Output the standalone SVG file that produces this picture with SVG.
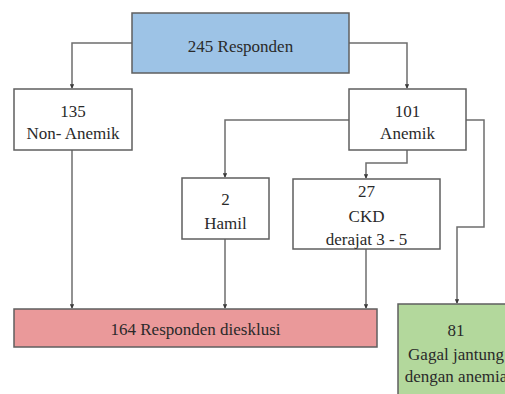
<svg xmlns="http://www.w3.org/2000/svg" width="505" height="394" viewBox="0 0 505 394">
<style>
.box{stroke:#5f5f5f;stroke-width:1.5}
.w{fill:#ffffff}
.t{font-family:'Liberation Serif', 'Times New Roman', 'DejaVu Serif', serif;font-size:17px;fill:#2a2a2a;text-anchor:middle}
.c{fill:none;stroke:#6e6e6e;stroke-width:1.5}
</style>
<defs>
<marker id="ah" viewBox="0 0 6 6" refX="5" refY="3" markerWidth="3" markerHeight="3" orient="auto" markerUnits="strokeWidth">
<path d="M0,0 L6,3 L0,6 Z" fill="#3a3a3a"/>
</marker>
</defs>
<rect width="505" height="394" fill="#ffffff"/>
<g id="connectors">
<path class="c" d="M132,43 H72 V88" marker-end="url(#ah)"/>
<path class="c" d="M349,43 H407 V88" marker-end="url(#ah)"/>
<path class="c" d="M349,120 H225 V177" marker-end="url(#ah)"/>
<path class="c" d="M407,150 V163 H366 V178" marker-end="url(#ah)"/>
<path class="c" d="M466,120 H484 V227 H457 V303" marker-end="url(#ah)"/>
<path class="c" d="M72,150 V308" marker-end="url(#ah)"/>
<path class="c" d="M225,239 V308" marker-end="url(#ah)"/>
<path class="c" d="M366,249 V308" marker-end="url(#ah)"/>
</g>
<g id="n245">
<rect class="box" x="132" y="13" width="217" height="60" fill="#9dc3e6"/>
<text class="t" font-family="Liberation Serif, serif" x="240.5" y="52">245 Responden</text>
</g>
<g id="n135">
<rect class="box w" x="14" y="89" width="118" height="61"/>
<text class="t" x="73" y="117">135</text>
<text class="t" x="73" y="139">Non- Anemik</text>
</g>
<g id="n101">
<rect class="box w" x="349" y="89" width="117" height="61"/>
<text class="t" x="407.5" y="117">101</text>
<text class="t" x="407.5" y="139">Anemik</text>
</g>
<g id="nHamil">
<rect class="box w" x="182" y="178" width="87" height="61"/>
<text class="t" x="225.5" y="205">2</text>
<text class="t" x="225.5" y="229">Hamil</text>
</g>
<g id="nCKD">
<rect class="box w" x="293" y="179" width="147" height="70"/>
<text class="t" x="366.5" y="197">27</text>
<text class="t" x="366.5" y="222">CKD</text>
<text class="t" x="366.5" y="245">derajat 3 - 5</text>
</g>
<g id="nExcl">
<rect class="box" x="14" y="309" width="363" height="38" fill="#ea999a"/>
<text class="t" x="195.5" y="335">164 Responden diesklusi</text>
</g>
<g id="nGagal">
<rect class="box" x="398" y="304" width="118" height="100" fill="#b3d89c"/>
<text class="t" x="456" y="336">81</text>
<text class="t" x="456" y="360">Gagal jantung</text>
<text class="t" x="456" y="382">dengan anemia</text>
</g>
</svg>
